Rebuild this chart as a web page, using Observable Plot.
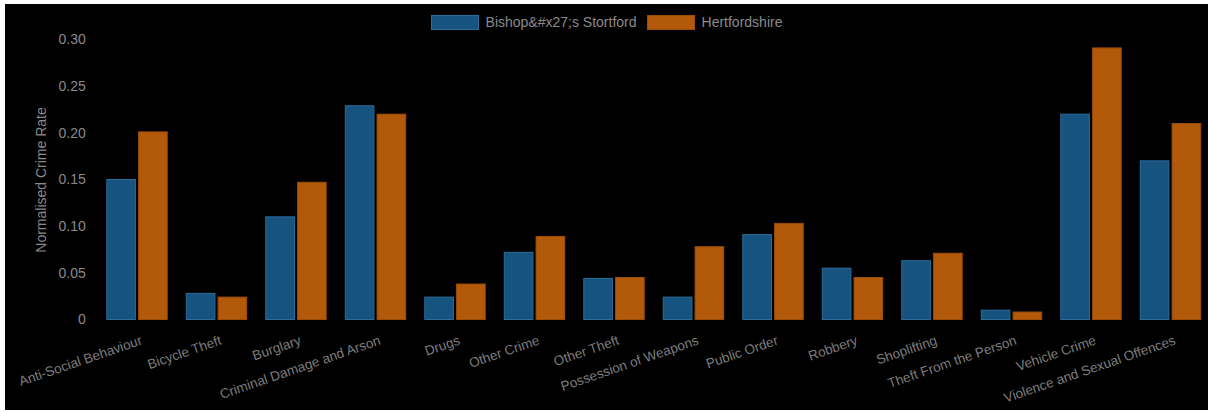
<!DOCTYPE html>
<html>
<head>
<meta charset="utf-8">
<script src="https://cdn.jsdelivr.net/npm/d3@7"></script>
<script src="https://cdn.jsdelivr.net/npm/@observablehq/plot@0.6"></script>
<style>
  html, body { margin: 0; padding: 0; background: #ffffff; }
  #chart {
    position: absolute; left: 5px; top: 4px; width: 1203px; height: 406px;
    background: #000000; overflow: hidden;
    font-family: "Liberation Sans", Arial, sans-serif;
  }
  #legend {
    height: 30px; box-sizing: border-box; padding-top: 11px;
    display: flex; justify-content: center; align-items: flex-start;
    font-size: 14px; color: #8a8a8a; line-height: 15px;
  }
  .item { display: flex; align-items: center; margin: 0 5px; }
  .sw { width: 48px; height: 15px; box-sizing: border-box; border: 1px solid; margin-right: 7px; }
  #chart svg { overflow: visible; display: block; }
</style>
</head>
<body>
<div id="chart"><div id="legend"></div></div>
<script>
const categories = [
  "Anti-Social Behaviour", "Bicycle Theft", "Burglary", "Criminal Damage and Arson",
  "Drugs", "Other Crime", "Other Theft", "Possession of Weapons", "Public Order",
  "Robbery", "Shoplifting", "Theft From the Person", "Vehicle Crime",
  "Violence and Sexual Offences"
];
const seriesNames = ["Bishop&#x27;s Stortford", "Hertfordshire"];
const bishopsStortford = [0.150, 0.028, 0.110, 0.229, 0.024, 0.072, 0.044, 0.024, 0.091, 0.055, 0.063, 0.010, 0.220, 0.170];
const hertfordshire    = [0.201, 0.024, 0.147, 0.220, 0.038, 0.089, 0.045, 0.078, 0.103, 0.045, 0.071, 0.008, 0.291, 0.210];
const yTicks = [0, 0.05, 0.10, 0.15, 0.20, 0.25, 0.30];
const yTitle = "Normalised Crime Rate";

const fills = ["#16537e", "#b3590a"];
const strokes = ["#2a6d9e", "#9c4d08"];

const data = [];
categories.forEach((c, i) => {
  data.push({crime: c, area: seriesNames[0], value: bishopsStortford[i]});
  data.push({crime: c, area: seriesNames[1], value: hertfordshire[i]});
});

// legend (HTML, above the SVG)
const legend = document.getElementById("legend");
seriesNames.forEach((s, i) => {
  const it = document.createElement("div");
  it.className = "item";
  const sw = document.createElement("div");
  sw.className = "sw";
  sw.style.background = fills[i];
  sw.style.borderColor = strokes[i];
  const tx = document.createElement("span");
  tx.textContent = s;
  it.appendChild(sw); it.appendChild(tx);
  legend.appendChild(it);
});

const W = 1203, H = 376;
const chart = Plot.plot({
  width: W,
  height: H,
  marginTop: 5.5,
  marginBottom: 90.5,
  marginLeft: 92,
  marginRight: 0,
  style: {background: "transparent", color: "#8a8a8a", fontFamily: "'Liberation Sans', Arial, sans-serif", fontSize: "14px"},
  fx: {domain: categories, range: [92.25, 1205.25], paddingInner: 0.2, paddingOuter: 0.1, round: false, axis: null, label: null},
  x: {domain: seriesNames, paddingInner: 0.1, paddingOuter: 0.05, round: false, axis: null, label: null},
  y: {domain: [0, 0.30], axis: null},
  color: {domain: seriesNames, range: fills},
  marks: [
    Plot.barY(data, {
      fx: "crime", x: "area", y: "value", fill: "area",
      stroke: d => strokes[seriesNames.indexOf(d.area)], strokeWidth: 1
    }),
    Plot.axisY({
      ticks: yTicks,
      tickFormat: d => d === 0 ? "0" : d.toFixed(2),
      tickSize: 0, tickPadding: 20, fontSize: 14, fill: "#8a8a8a", label: null
    }),
    Plot.text([yTitle], {
      fx: () => categories[0], text: d => d, frameAnchor: "left", dx: -64,
      rotate: -90, textAnchor: "middle", lineAnchor: "middle", fontSize: 14, fill: "#8a8a8a"
    }),
    Plot.text(categories, {
      fx: d => d, text: d => d, frameAnchor: "bottom", dx: 4, dy: 20,
      rotate: -19, textAnchor: "end", lineAnchor: "middle", fontSize: 13.5, fill: "#7c7c7c"
    })
  ]
});
document.getElementById("chart").appendChild(chart);
</script>
</body>
</html>
